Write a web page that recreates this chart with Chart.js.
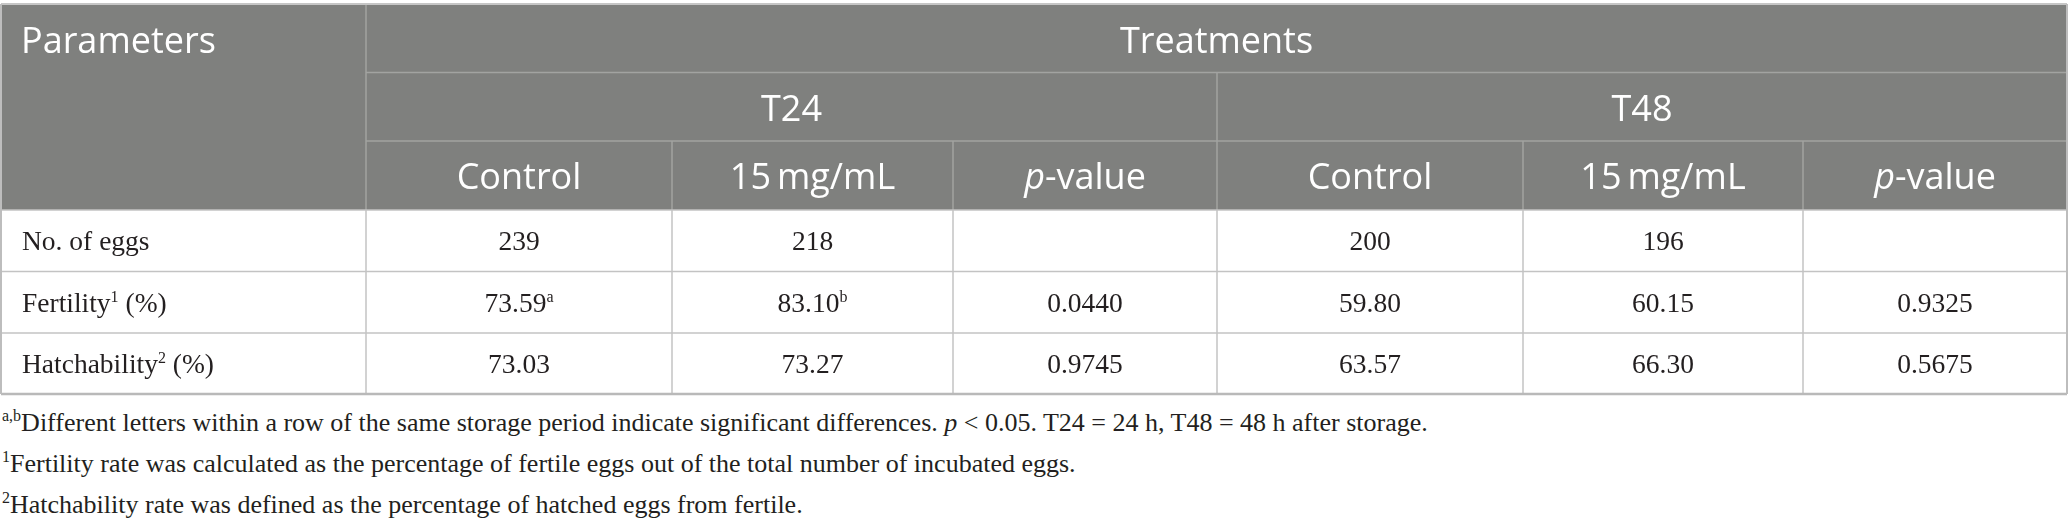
<!DOCTYPE html>
<html>
<head>
<meta charset="utf-8">
<script src="https://cdn.jsdelivr.net/npm/chart.js@4.4.1/dist/chart.umd.min.js"></script>
<style>
  html, body { margin: 0; padding: 0; background: #fff; }
  body { width: 2068px; height: 521px; overflow: hidden; }
  #wrap { width: 2068px; height: 398px; }
  .notes { font-family: "Liberation Serif", "Times New Roman", serif; font-size: 26px; line-height: 38px; color: #231f20; margin: 6px 0 0 2px; }
  .notes div { white-space: nowrap; }
  .notes sup { font-size: 16px; vertical-align: baseline; position: relative; top: -10px; }
</style>
</head>
<body>
<div id="wrap"><canvas id="tableChart" width="2068" height="398"></canvas></div>
<div class="notes">
  <div><sup>a,b</sup>Different letters within a row of the same storage period indicate significant differences. <i>p</i> &lt; 0.05. T24 = 24 h, T48 = 48 h after storage.</div>
  <div><sup>1</sup>Fertility rate was calculated as the percentage of fertile eggs out of the total number of incubated eggs.</div>
  <div><sup>2</sup>Hatchability rate was defined as the percentage of hatched eggs from fertile.</div>
</div>
<script>
// table contents
const parameters = ['No. of eggs', 'Fertility', 'Hatchability'];
const parameterNotes = ['', '1', '2'];
const parameterUnits = ['', ' (%)', ' (%)'];
const storageGroups = ['T24', 'T48'];
const treatments = ['Control', '15\u2009mg/mL'];
const rowDecimals = [0, 2, 2];

const t24Control = [239, 73.59, 73.03];
const t24Dose = [218, 83.10, 73.27];
const t24PValue = [null, 0.0440, 0.9745];
const t48Control = [200, 59.80, 63.57];
const t48Dose = [196, 60.15, 66.30];
const t48PValue = [null, 0.9325, 0.5675];

const t24ControlLetters = ['', 'a', ''];
const t24DoseLetters = ['', 'b', ''];
const t48ControlLetters = ['', '', ''];
const t48DoseLetters = ['', '', ''];

// grid layout
const colWidths = [365, 306, 281, 264, 306, 280, 264];
const rowHeights = [68.5, 68.5, 69, 61.5, 61.5, 61];
const headerRows = 3;

const colEdges = [0];
colWidths.forEach(w => colEdges.push(colEdges[colEdges.length - 1] + w));
const rowEdges = [0];
rowHeights.forEach(h => rowEdges.push(rowEdges[rowEdges.length - 1] + h));

const headBg = '#7f807e';
const headLine = '#a2a3a1';
const bodyLine = '#c3c3c3';
const bodyText = '#231f20';
const headFont = '36px "Open Sans"';
const headItalic = 'italic 36px "Open Sans"';
const bodyFont = '27.5px "Liberation Serif"';
const supFont = '16px "Liberation Serif"';

const groupColumns = [
  { control: t24Control, dose: t24Dose, p: t24PValue, cL: t24ControlLetters, dL: t24DoseLetters },
  { control: t48Control, dose: t48Dose, p: t48PValue, cL: t48ControlLetters, dL: t48DoseLetters }
];

function drawParts(ctx, parts, x, y, align) {
  let total = 0;
  parts.forEach(p => { ctx.font = p.font; total += ctx.measureText(p.text).width; });
  let cx = align === 'center' ? x - total / 2 : x;
  ctx.textAlign = 'left';
  ctx.textBaseline = 'alphabetic';
  parts.forEach(p => {
    ctx.font = p.font;
    ctx.fillText(p.text, cx, y - (p.dy || 0));
    cx += ctx.measureText(p.text).width;
  });
}

function numParts(val, dec, letter) {
  if (val === null) return [];
  const parts = [{ text: val.toFixed(dec), font: bodyFont }];
  if (letter) parts.push({ text: letter, font: supFont, dy: 10 });
  return parts;
}

const tablePlugin = {
  id: 'tableCells',
  afterDraw(chart) {
    const { ctx, scales: { x, y } } = chart;
    const X = i => x.getPixelForValue(colEdges[i]);
    const Y = i => y.getPixelForValue(rowEdges[i]);
    const midX = (a, b) => (X(a) + X(b)) / 2;
    const midY = r => (Y(r) + Y(r + 1)) / 2;
    const nCols = colWidths.length;
    const nRows = rowHeights.length;

    ctx.save();
    // header background
    ctx.fillStyle = headBg;
    ctx.fillRect(X(0), Y(0), X(nCols) - X(0), Y(headerRows) - Y(0));

    const line = (x1, y1, x2, y2, color, w) => {
      ctx.strokeStyle = color;
      ctx.lineWidth = w || 1.5;
      ctx.beginPath();
      ctx.moveTo(x1, y1);
      ctx.lineTo(x2, y2);
      ctx.stroke();
    };

    // header grid
    line(X(1), Y(1), X(nCols), Y(1), headLine);
    line(X(1), Y(2), X(nCols), Y(2), headLine);
    line(X(1), Y(0), X(1), Y(3), headLine);
    line(X(4), Y(1), X(4), Y(3), headLine);
    [2, 3, 5, 6].forEach(c => line(X(c), Y(2), X(c), Y(3), headLine));

    // body grid
    for (let r = headerRows; r < nRows; r++) line(X(0), Y(r), X(nCols), Y(r), bodyLine);
    for (let c = 1; c < nCols; c++) line(X(c), Y(headerRows), X(c), Y(nRows), bodyLine);

    // outer border
    line(X(0), Y(0), X(nCols), Y(0), '#c6c6c6', 2);
    line(X(0), Y(nRows), X(nCols), Y(nRows), '#b9b9b9', 2.5);
    line(X(0), Y(0), X(0), Y(nRows), '#bdbdbd', 2);
    line(X(nCols), Y(0), X(nCols), Y(nRows), '#bdbdbd', 2);

    // header text
    ctx.fillStyle = '#ffffff';
    drawParts(ctx, [{ text: 'Parameters', font: headFont }], X(0) + 20, midY(0) + 15, 'left');
    drawParts(ctx, [{ text: 'Treatments', font: headFont }], midX(1, nCols), midY(0) + 15, 'center');
    storageGroups.forEach((g, i) => {
      const c0 = 1 + i * 3;
      drawParts(ctx, [{ text: g, font: headFont }], midX(c0, c0 + 3), midY(1) + 14, 'center');
      treatments.forEach((t, j) => {
        drawParts(ctx, [{ text: t, font: headFont }], midX(c0 + j, c0 + j + 1), midY(2) + 13.5, 'center');
      });
      drawParts(ctx, [{ text: 'p', font: headItalic }, { text: '-value', font: headFont }],
        midX(c0 + 2, c0 + 3), midY(2) + 13.5, 'center');
    });

    // body text
    ctx.fillStyle = bodyText;
    parameters.forEach((p, i) => {
      const r = headerRows + i;
      const base = midY(r) + 9.5;
      const label = [{ text: p, font: bodyFont }];
      if (parameterNotes[i]) label.push({ text: parameterNotes[i], font: supFont, dy: 10 });
      if (parameterUnits[i]) label.push({ text: parameterUnits[i], font: bodyFont });
      drawParts(ctx, label, X(0) + 21, base, 'left');

      groupColumns.forEach((g, gi) => {
        const c0 = 1 + gi * 3;
        drawParts(ctx, numParts(g.control[i], rowDecimals[i], g.cL[i]), midX(c0, c0 + 1), base, 'center');
        drawParts(ctx, numParts(g.dose[i], rowDecimals[i], g.dL[i]), midX(c0 + 1, c0 + 2), base, 'center');
        drawParts(ctx, numParts(g.p[i], 4, ''), midX(c0 + 2, c0 + 3), base, 'center');
      });
    });
    ctx.restore();
  }
};

new Chart(document.getElementById('tableChart').getContext('2d'), {
  type: 'scatter',
  data: { datasets: [] },
  options: {
    responsive: false,
    animation: false,
    devicePixelRatio: 1,
    layout: { padding: { left: 1, right: 1, top: 4, bottom: 4 } },
    plugins: { legend: { display: false }, tooltip: { enabled: false } },
    scales: {
      x: { type: 'linear', display: false, min: 0, max: colEdges[colEdges.length - 1] },
      y: { type: 'linear', display: false, reverse: true, min: 0, max: rowEdges[rowEdges.length - 1] }
    }
  },
  plugins: [tablePlugin]
});
</script>
</body>
</html>
